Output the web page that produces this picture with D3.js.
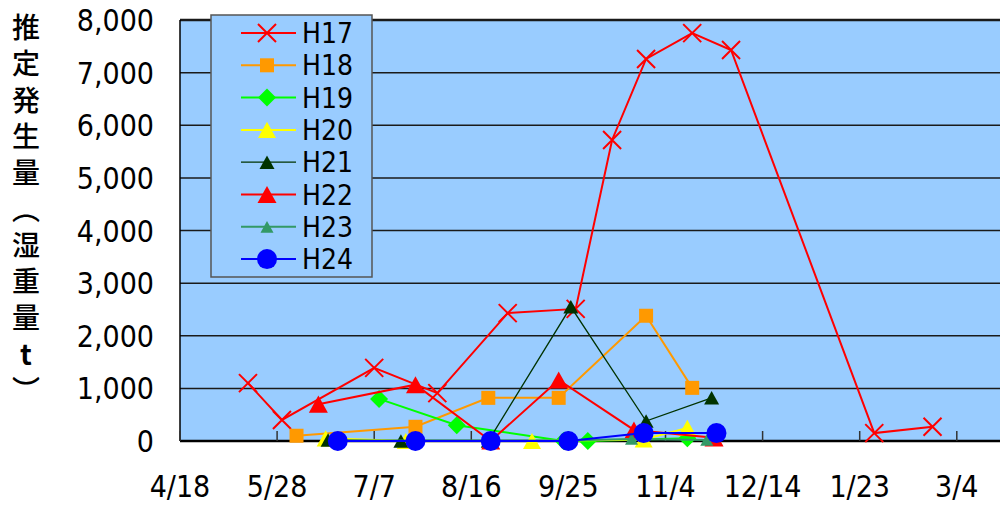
<!DOCTYPE html>
<html>
<head>
<meta charset="utf-8">
<script src="https://cdn.jsdelivr.net/npm/d3@7"></script>
<style>
  body { margin: 0; background: #fff; }
  svg { display: block; }
  .num { font-family: "Liberation Sans Narrow", "DejaVu Sans Condensed", sans-serif; font-size: 30px; fill: #000; }
  .ttl { font-family: "Noto Sans CJK JP", sans-serif; font-size: 28px; fill: #000; font-weight: 500; }
</style>
</head>
<body>
<svg id="chart" width="1000" height="506"></svg>
<script>
var seriesNames = ["H17", "H18", "H19", "H20", "H21", "H22", "H23", "H24"];

var h17Dates = ["2005-05-16", "2005-05-30", "2005-07-07", "2005-08-02", "2005-08-31", "2005-09-28", "2005-10-13", "2005-10-27", "2005-11-15", "2005-12-01", "2006-01-29", "2006-02-22"];
var h17Values = [1100, 400, 1390, 910, 2430, 2510, 5720, 7260, 7750, 7430, 150, 270];

var h18Dates = ["2005-06-05", "2005-07-24", "2005-08-23", "2005-09-21", "2005-10-27", "2005-11-15"];
var h18Values = [100, 270, 820, 820, 2380, 1010];

var h19Dates = ["2005-07-09", "2005-08-10", "2005-09-23", "2005-10-03", "2005-11-13"];
var h19Values = [800, 300, 0, 0, 50];

var h20Dates = ["2005-06-17", "2005-07-20", "2005-08-24", "2005-09-10", "2005-10-26", "2005-11-13"];
var h20Values = [50, 0, 0, 0, 30, 250];

var h21Dates = ["2005-06-18", "2005-07-18", "2005-08-23", "2005-09-26", "2005-10-27", "2005-11-23"];
var h21Values = [20, 0, 0, 2550, 380, 820];

var h22Dates = ["2005-06-14", "2005-07-24", "2005-08-24", "2005-09-21", "2005-10-22", "2005-11-24"];
var h22Values = [700, 1070, 0, 1160, 210, 60];

var h23Dates = ["2005-06-22", "2005-07-24", "2005-08-24", "2005-09-25", "2005-10-21", "2005-11-21"];
var h23Values = [10, 10, 10, 10, 40, 20];

var h24Dates = ["2005-06-22", "2005-07-24", "2005-08-24", "2005-09-25", "2005-10-26", "2005-11-25"];
var h24Values = [0, 0, 0, 0, 150, 150];

var xTickDates = ["2005-04-18", "2005-05-28", "2005-07-07", "2005-08-16", "2005-09-25", "2005-11-04", "2005-12-14", "2006-01-23", "2006-03-04"];
var xTickLabels = ["4/18", "5/28", "7/7", "8/16", "9/25", "11/4", "12/14", "1/23", "3/4"];
var yTicks = [0, 1000, 2000, 3000, 4000, 5000, 6000, 7000, 8000];
var yTitle = ["推", "定", "発", "生", "量", "︵", "湿", "重", "量", "t", "︶"];

var parse = d3.utcParse("%Y-%m-%d");

var svg = d3.select("#chart");
var plotLeft = 180, plotTop = 20, plotBottom = 441, plotRight = 1000;

var x = d3.scaleUtc()
  .domain([parse("2005-04-18"), parse("2006-04-13")])
  .range([plotLeft, plotLeft + 9 * 97.1]);
var y = d3.scaleLinear().domain([0, 8000]).range([plotBottom, plotTop]);

// plot background
svg.append("rect")
  .attr("x", plotLeft).attr("y", plotTop)
  .attr("width", plotRight - plotLeft).attr("height", plotBottom - plotTop)
  .attr("fill", "#99ccff");

// grid
svg.selectAll(".grid")
  .data(yTicks.slice(1)).enter()
  .append("line")
  .attr("class", "grid")
  .attr("x1", plotLeft).attr("x2", plotRight)
  .attr("y1", function (d) { return y(d); })
  .attr("y2", function (d) { return y(d); })
  .attr("stroke", "#1a1a1a")
  .attr("stroke-width", function (d) { return d === 8000 ? 2.5 : 1.5; });

// axes lines
svg.append("line")
  .attr("x1", plotLeft).attr("x2", plotLeft).attr("y1", plotTop).attr("y2", plotBottom)
  .attr("stroke", "#000").attr("stroke-width", 1.5);
svg.append("line")
  .attr("x1", plotLeft).attr("x2", plotRight).attr("y1", plotBottom).attr("y2", plotBottom)
  .attr("stroke", "#000").attr("stroke-width", 2.5);

// x ticks (inside)
svg.selectAll(".xtick")
  .data(xTickDates).enter()
  .append("line")
  .attr("class", "xtick")
  .attr("x1", function (d) { return x(parse(d)); })
  .attr("x2", function (d) { return x(parse(d)); })
  .attr("y1", plotBottom).attr("y2", plotBottom - 10)
  .attr("stroke", "#333").attr("stroke-width", 1.5);

// x labels
svg.selectAll(".xlab")
  .data(xTickDates).enter()
  .append("text")
  .attr("class", "num")
  .attr("x", function (d) { return x(parse(d)); })
  .attr("y", 497)
  .attr("text-anchor", "middle")
  .text(function (d, i) { return xTickLabels[i]; });

// y labels
var fmt = d3.format(",");
svg.selectAll(".ylab")
  .data(yTicks).enter()
  .append("text")
  .attr("class", "num")
  .attr("x", 154)
  .attr("y", function (d) { return y(d) + 11; })
  .attr("text-anchor", "end")
  .text(function (d) { return fmt(d); });

// y title, stacked vertically
svg.selectAll(".ytitle")
  .data(yTitle).enter()
  .append("text")
  .attr("class", "ttl")
  .attr("x", 26)
  .attr("y", function (d, i) { return 38 + i * 36.3; })
  .attr("text-anchor", "middle")
  .style("font-weight", function (d) { return d === "t" ? "bold" : null; })
  .text(function (d) { return d; });

// marker shapes
function triPath(s) {
  var h = s * 0.9;
  return "M0," + (-h / 2) + "L" + (s / 2) + "," + (h / 2) + "L" + (-s / 2) + "," + (h / 2) + "Z";
}
var markers = {
  H17: { color: "#ff0000", width: 2, shape: "x", size: 9 },
  H18: { color: "#ff9900", width: 2, shape: "square", size: 14 },
  H19: { color: "#00ff00", width: 2, shape: "diamond", size: 9 },
  H20: { color: "#ffff00", width: 2, shape: "tri", size: 18 },
  H21: { color: "#003300", width: 1.3, shape: "tri", size: 15 },
  H22: { color: "#ff0000", width: 2, shape: "tri", size: 19 },
  H23: { color: "#339966", width: 2, shape: "tri", size: 13 },
  H24: { color: "#0000ff", width: 2, shape: "circle", size: 10 }
};
function markerPath(m) {
  var s = m.size;
  if (m.shape === "square") return "M" + (-s / 2) + "," + (-s / 2) + "h" + s + "v" + s + "h" + (-s) + "Z";
  if (m.shape === "diamond") return "M0," + (-s) + "L" + s + ",0L0," + s + "L" + (-s) + ",0Z";
  if (m.shape === "tri") return triPath(s);
  if (m.shape === "circle") return d3.symbol(d3.symbolCircle, Math.PI * s * s)();
  return "M" + (-s) + "," + (-s) + "L" + s + "," + s + "M" + s + "," + (-s) + "L" + (-s) + "," + s;
}
function drawMarker(g, m) {
  if (m.shape === "x") {
    g.append("path").attr("d", markerPath(m))
      .attr("stroke", m.color).attr("stroke-width", 2).attr("fill", "none");
  } else {
    g.append("path").attr("d", markerPath(m)).attr("fill", m.color);
  }
}

var allDates = [h17Dates, h18Dates, h19Dates, h20Dates, h21Dates, h22Dates, h23Dates, h24Dates];
var allValues = [h17Values, h18Values, h19Values, h20Values, h21Values, h22Values, h23Values, h24Values];

var line = d3.line()
  .x(function (d) { return x(d.date); })
  .y(function (d) { return y(d.value); });

seriesNames.forEach(function (name, k) {
  var m = markers[name];
  var pts = allDates[k].map(function (d, i) {
    return { date: parse(d), value: allValues[k][i] };
  });
  var g = svg.append("g").attr("class", "series");
  g.append("path")
    .datum(pts)
    .attr("d", line)
    .attr("fill", "none")
    .attr("stroke", m.color)
    .attr("stroke-width", m.width);
  pts.forEach(function (p) {
    var mg = g.append("g")
      .attr("transform", "translate(" + x(p.date) + "," + y(p.value) + ")");
    drawMarker(mg, m);
  });
});

// legend
var lg = svg.append("g");
lg.append("rect")
  .attr("x", 211).attr("y", 15)
  .attr("width", 161).attr("height", 262)
  .attr("fill", "#99ccff")
  .attr("stroke", "#555").attr("stroke-width", 1.5);
seriesNames.forEach(function (name, i) {
  var m = markers[name];
  var cy = 33 + i * 32.3;
  lg.append("line")
    .attr("x1", 241).attr("x2", 296)
    .attr("y1", cy).attr("y2", cy)
    .attr("stroke", m.color).attr("stroke-width", m.width);
  var mg = lg.append("g").attr("transform", "translate(267," + cy + ")");
  drawMarker(mg, m);
  lg.append("text")
    .attr("class", "num")
    .style("font-size", "28px")
    .attr("x", 302).attr("y", cy + 10)
    .text(name);
});
</script>
</body>
</html>
